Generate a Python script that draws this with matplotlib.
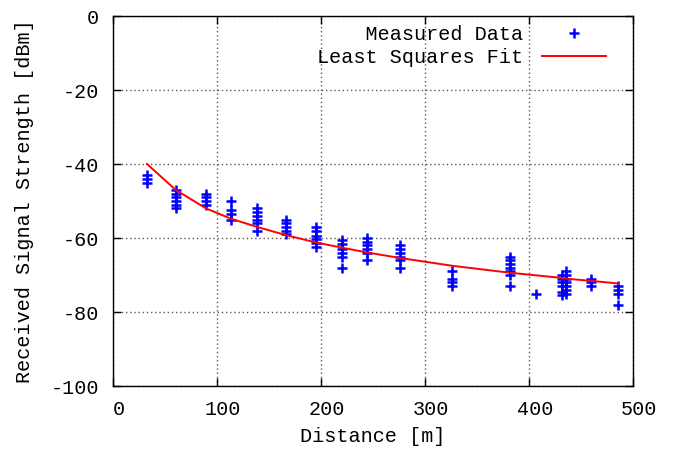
import matplotlib
matplotlib.use("Agg")
import matplotlib.pyplot as plt
import matplotlib.transforms as mtransforms

# distances [m] of each measurement spot
dist = [32.7, 60.3, 89.4, 113.5, 138.5, 166, 195, 220, 244, 276,
        326, 382, 407, 432, 436, 460, 486]

# received signal strength [dBm] measured at each spot
rss = [
    [-43, -44, -45],
    [-47, -48, -49, -50, -51, -52],
    [-48, -49, -50, -51],
    [-50, -52.5, -53.5, -55],
    [-52, -53, -54, -55, -56, -58],
    [-55, -56, -57, -58, -59],
    [-57, -58, -59.5, -60.3, -61.3, -62.5],
    [-60.5, -61.5, -63, -64, -65, -68],
    [-60, -61, -62, -63, -64, -66],
    [-62, -63, -64, -65, -66, -68],
    [-69, -71, -72, -73],
    [-65, -66, -67, -68, -69, -70, -73],
    [-75],
    [-70, -71, -72, -73, -74.5, -75.5],
    [-69, -70, -71, -72, -73, -74, -75],
    [-71, -72, -73],
    [-73, -74, -75, -78],
]

# least squares fit evaluated at the same distances
fit_rss = [-40.0, -47.0, -52.0, -54.8, -57.0, -59.2, -61.2, -62.6, -63.9,
           -65.4, -67.5, -69.4, -70.1, -70.8, -71.0, -71.6, -72.3]

plt.rcParams['font.family'] = ['Liberation Mono', 'DejaVu Sans Mono']
plt.rcParams['font.size'] = 14.5
plt.rcParams['axes.unicode_minus'] = False

fig = plt.figure(figsize=(6.74, 4.53), dpi=100)
ax = fig.add_axes([113/674, 1 - 386/453, 520/674, 370/453])

xs, ys = [], []
for d, vals in zip(dist, rss):
    for v in vals:
        xs.append(d)
        ys.append(v)

ax.plot(xs, ys, linestyle='none', marker='+', color='#0000ff',
        markersize=7.5, markeredgewidth=1.8, label='    Measured Data')
ax.plot(dist, fit_rss, color='#ff0000', linewidth=1.4, label='Least Squares Fit')

ax.set_xlim(0, 500)
ax.set_ylim(-100, 0)
ax.set_xticks(range(0, 501, 100))
ax.set_yticks(range(-100, 1, 20))
ax.tick_params(direction='in', length=6, width=1, top=True, right=True,
               labelsize=14.5, pad=10, colors='black')
ax.tick_params(axis='y', pad=10)
ax.grid(True, color='0.35', linestyle=(0, (1, 2)), linewidth=1)
for sp in ax.spines.values():
    sp.set_linewidth(1)

# gnuplot puts the x tick labels a little to the right of the ticks
shift = mtransforms.ScaledTranslation(6/100, 0, fig.dpi_scale_trans)
for lab in ax.get_xticklabels():
    lab.set_transform(lab.get_transform() + shift)

ax.set_xlabel('Distance [m]', labelpad=6)
ax.set_ylabel('Received Signal Strength [dBm]', labelpad=12)

ax.legend(loc='upper right', bbox_to_anchor=(0.948, 0.975), frameon=False,
          markerfirst=False, numpoints=1, handlelength=3.2, handletextpad=0.9,
          borderaxespad=0, borderpad=0, labelspacing=0.2)

fig.savefig('out.png', dpi=100)
